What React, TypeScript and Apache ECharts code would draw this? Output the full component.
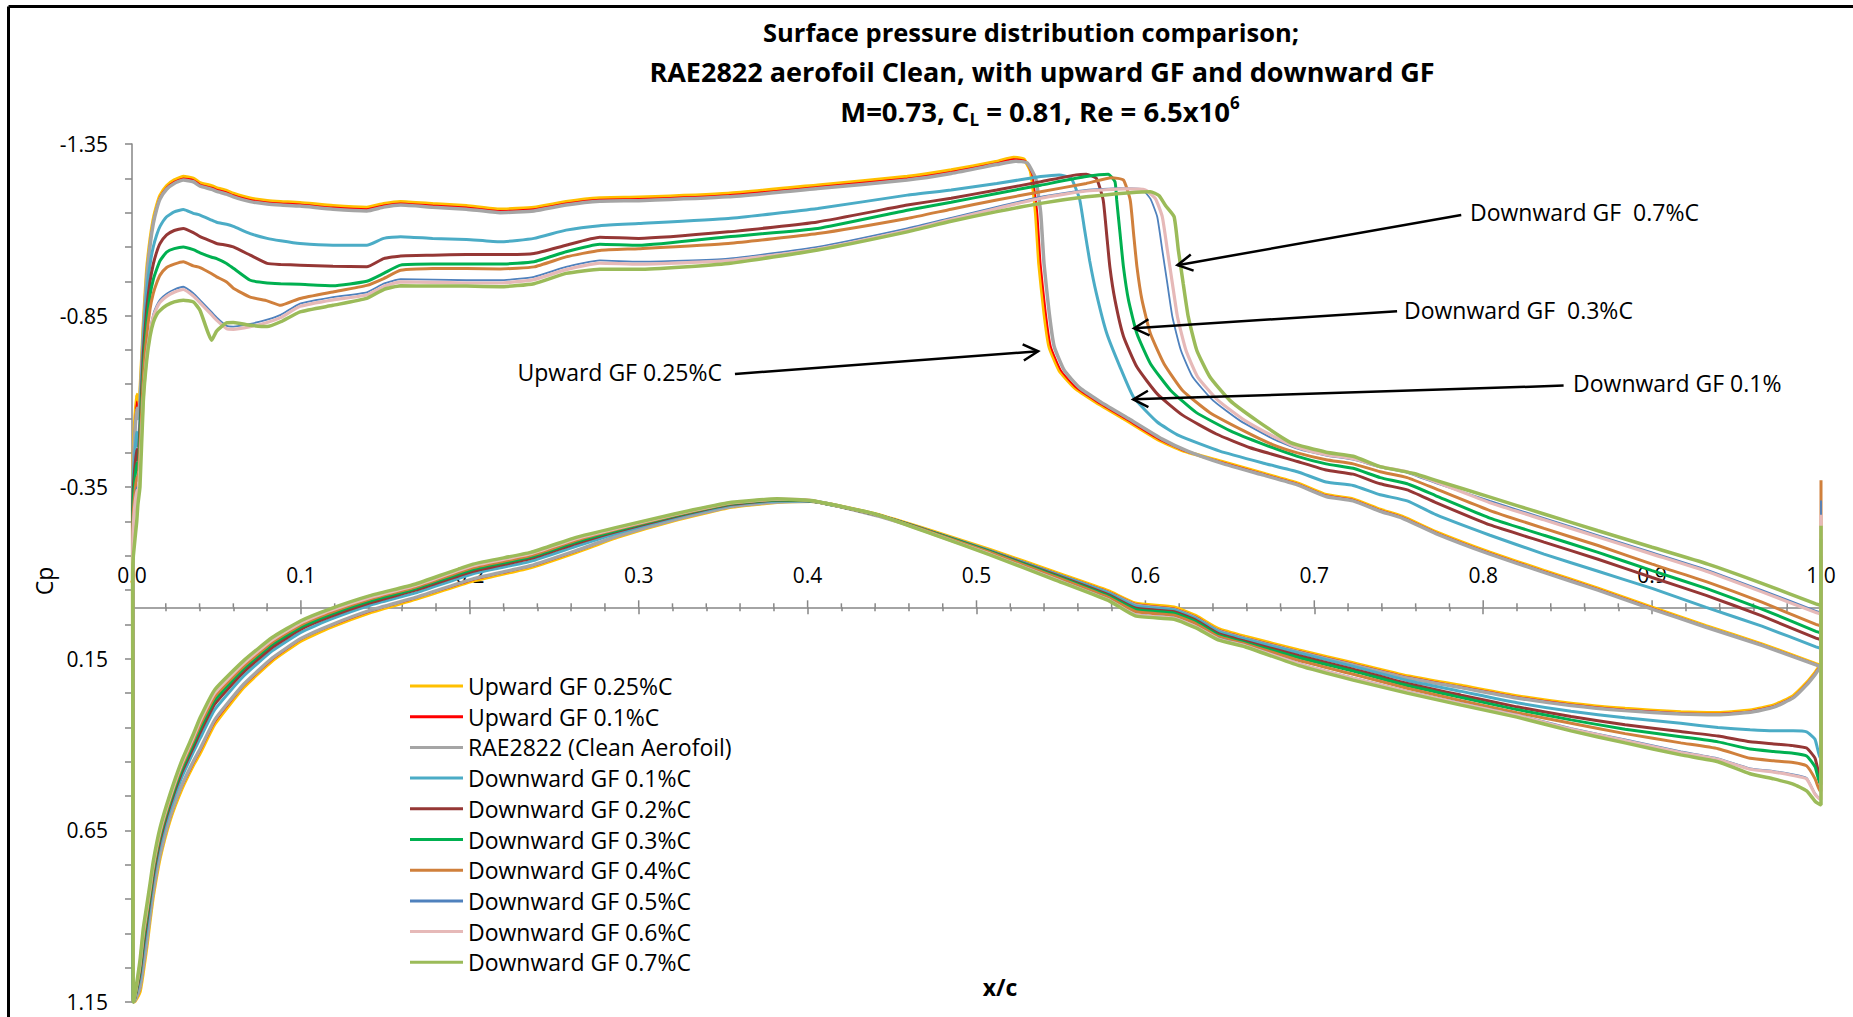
import React, { useEffect, useRef } from "react";
import * as echarts from "echarts";

const FONT = "'Open Sans', 'DejaVu Sans', sans-serif";

const SERIES_NAMES = [
  "Upward GF 0.25%C",
  "Upward GF 0.1%C",
  "RAE2822 (Clean Aerofoil)",
  "Downward GF 0.1%C",
  "Downward GF 0.2%C",
  "Downward GF 0.3%C",
  "Downward GF 0.4%C",
  "Downward GF 0.5%C",
  "Downward GF 0.6%C",
  "Downward GF 0.7%C",
];
const COLORS = ["#FFC000", "#FF0000", "#A5A5A5", "#4BACC6", "#953735", "#00B050", "#D0803C", "#4F81BD", "#E6B9B8", "#9BBB59"];
const LINE_WIDTHS = [3.5, 1.8, 3.5, 3, 3, 3, 3, 1.8, 3.2, 3.5];

// Y axis ticks (Cp, reversed)
const Y_MIN = -1.35;
const Y_MAX = 1.15;
const Y_STEP = 0.5;
// X axis ticks (x/c)
const X_MIN = 0;
const X_MAX = 1;
const X_STEP = 0.1;
const X_MINOR_SPLIT = 5;

// ---------- upper surface, leading edge to x = 0.512 (shared stations) ----------
const UPPER_X = [0.0004, 0.0008, 0.0028, 0.0035, 0.0047, 0.0067, 0.0087, 0.0107, 0.0126, 0.0146, 0.0166, 0.0205, 0.025, 0.0304, 0.0363, 0.0403, 0.0472, 0.0501, 0.056, 0.06, 0.07, 0.08, 0.088, 0.0995, 0.119, 0.139, 0.149, 0.159, 0.178, 0.198, 0.218, 0.238, 0.257, 0.277, 0.30, 0.353, 0.406, 0.459, 0.485, 0.512];

const UP_UPWARD_025 = [-0.30, -0.45, -0.62, -0.57, -0.62, -0.82, -0.98, -1.07, -1.13, -1.17, -1.20, -1.228, -1.245, -1.255, -1.25, -1.237, -1.228, -1.222, -1.214, -1.206, -1.192, -1.185, -1.182, -1.179, -1.17, -1.165, -1.176, -1.182, -1.176, -1.17, -1.16, -1.165, -1.182, -1.193, -1.195, -1.206, -1.23, -1.255, -1.274, -1.299];
const UP_UPWARD_01 = [-0.29, -0.44, -0.60, -0.56, -0.61, -0.81, -0.97, -1.063, -1.124, -1.165, -1.195, -1.223, -1.24, -1.25, -1.245, -1.232, -1.223, -1.217, -1.209, -1.201, -1.187, -1.18, -1.177, -1.174, -1.165, -1.16, -1.171, -1.177, -1.171, -1.165, -1.155, -1.16, -1.177, -1.188, -1.19, -1.201, -1.225, -1.25, -1.269, -1.294];
const UP_CLEAN = [-0.28, -0.42, -0.58, -0.55, -0.60, -0.80, -0.96, -1.055, -1.118, -1.16, -1.19, -1.218, -1.235, -1.245, -1.24, -1.227, -1.218, -1.212, -1.204, -1.196, -1.182, -1.175, -1.172, -1.169, -1.16, -1.155, -1.166, -1.172, -1.166, -1.16, -1.15, -1.155, -1.172, -1.183, -1.185, -1.196, -1.22, -1.245, -1.264, -1.29];
const UP_DOWN_01 = [-0.25, -0.38, -0.51, -0.47, -0.55, -0.78, -0.92, -1.0, -1.05, -1.085, -1.11, -1.138, -1.152, -1.159, -1.148, -1.143, -1.128, -1.122, -1.116, -1.11, -1.089, -1.075, -1.068, -1.06, -1.055, -1.055, -1.075, -1.08, -1.075, -1.072, -1.065, -1.075, -1.099, -1.112, -1.118, -1.133, -1.162, -1.201, -1.216, -1.235];
const UP_DOWN_02 = [-0.22, -0.35, -0.46, -0.43, -0.52, -0.74, -0.87, -0.95, -1.0, -1.035, -1.06, -1.085, -1.098, -1.104, -1.092, -1.08, -1.066, -1.06, -1.055, -1.05, -1.026, -1.002, -0.999, -0.997, -0.994, -0.992, -1.016, -1.024, -1.026, -1.028, -1.028, -1.031, -1.055, -1.078, -1.075, -1.094, -1.123, -1.172, -1.192, -1.216];
const UP_DOWN_03 = [-0.20, -0.32, -0.42, -0.40, -0.49, -0.70, -0.83, -0.91, -0.955, -0.985, -1.01, -1.035, -1.045, -1.05, -1.042, -1.033, -1.02, -1.016, -1.002, -0.988, -0.953, -0.945, -0.943, -0.941, -0.937, -0.95, -0.973, -0.997, -1.0, -1.0, -1.0, -1.007, -1.036, -1.058, -1.055, -1.08, -1.104, -1.157, -1.18, -1.206];
const UP_DOWN_04 = [-0.18, -0.28, -0.38, -0.37, -0.46, -0.67, -0.79, -0.87, -0.915, -0.945, -0.968, -0.99, -1.0, -1.007, -0.995, -0.99, -0.972, -0.963, -0.948, -0.93, -0.904, -0.893, -0.88, -0.9, -0.919, -0.938, -0.958, -0.982, -0.987, -0.987, -0.986, -0.992, -1.021, -1.04, -1.045, -1.06, -1.089, -1.133, -1.16, -1.187];
const UP_DOWN_05 = [-0.15, -0.25, -0.35, -0.34, -0.42, -0.62, -0.74, -0.81, -0.855, -0.88, -0.897, -0.914, -0.926, -0.934, -0.915, -0.895, -0.86, -0.845, -0.82, -0.818, -0.826, -0.838, -0.852, -0.885, -0.904, -0.918, -0.943, -0.956, -0.955, -0.953, -0.953, -0.963, -0.992, -1.011, -1.007, -1.016, -1.05, -1.104, -1.135, -1.167];
const UP_DOWN_06 = [-0.14, -0.24, -0.34, -0.33, -0.41, -0.61, -0.73, -0.80, -0.846, -0.872, -0.889, -0.906, -0.918, -0.926, -0.907, -0.887, -0.852, -0.837, -0.812, -0.81, -0.818, -0.83, -0.844, -0.877, -0.896, -0.91, -0.935, -0.948, -0.947, -0.945, -0.945, -0.955, -0.984, -1.003, -1.0, -1.01, -1.044, -1.098, -1.13, -1.162];
const UP_DOWN_07 = [-0.10, -0.15, -0.25, -0.30, -0.35, -0.60, -0.72, -0.79, -0.83, -0.853, -0.865, -0.88, -0.89, -0.895, -0.89, -0.865, -0.778, -0.805, -0.829, -0.83, -0.822, -0.818, -0.832, -0.861, -0.88, -0.9, -0.926, -0.937, -0.936, -0.936, -0.934, -0.943, -0.973, -0.985, -0.985, -1.002, -1.041, -1.094, -1.125, -1.153];

// ---------- upper surface, shock region to trailing edge ([x, Cp]) ----------
const AFT_UPWARD_025 = [[0.522, -1.311], [0.528, -1.306], [0.532, -1.27], [0.535, -1.15], [0.537, -1.0], [0.54, -0.86], [0.543, -0.76], [0.549, -0.69], [0.558, -0.64], [0.57, -0.6], [0.587, -0.55], [0.607, -0.49], [0.622, -0.457], [0.645, -0.425], [0.67, -0.39], [0.69, -0.362], [0.707, -0.328], [0.723, -0.315], [0.739, -0.285], [0.752, -0.265], [0.772, -0.22], [0.804, -0.16], [0.836, -0.107], [0.868, -0.055], [0.9, 0.0], [0.932, 0.054], [0.965, 0.107], [0.997, 0.165], [1.0, 0.17]];
const AFT_UPWARD_01 = [[0.522, -1.306], [0.529, -1.3], [0.533, -1.26], [0.536, -1.15], [0.538, -1.0], [0.541, -0.86], [0.544, -0.76], [0.55, -0.69], [0.559, -0.64], [0.571, -0.6], [0.588, -0.55], [0.608, -0.49], [0.623, -0.456], [0.645, -0.423], [0.67, -0.388], [0.69, -0.36], [0.707, -0.326], [0.723, -0.313], [0.739, -0.283], [0.752, -0.263], [0.772, -0.218], [0.804, -0.158], [0.836, -0.105], [0.868, -0.053], [0.9, 0.002], [0.932, 0.056], [0.965, 0.109], [0.997, 0.166], [1.0, 0.172]];
const AFT_CLEAN = [[0.523, -1.3], [0.53, -1.295], [0.535, -1.25], [0.538, -1.15], [0.54, -1.0], [0.543, -0.86], [0.546, -0.76], [0.552, -0.69], [0.561, -0.64], [0.573, -0.6], [0.59, -0.55], [0.61, -0.49], [0.625, -0.455], [0.645, -0.42], [0.67, -0.385], [0.69, -0.357], [0.707, -0.323], [0.723, -0.31], [0.739, -0.28], [0.752, -0.26], [0.772, -0.215], [0.804, -0.155], [0.836, -0.102], [0.868, -0.05], [0.9, 0.005], [0.932, 0.058], [0.965, 0.111], [0.997, 0.168], [1.0, 0.174]];
const AFT_DOWN_01 = [[0.538, -1.255], [0.549, -1.26], [0.556, -1.25], [0.561, -1.19], [0.564, -1.1], [0.567, -1.01], [0.571, -0.914], [0.577, -0.8], [0.585, -0.7], [0.593, -0.612], [0.607, -0.54], [0.62, -0.5], [0.644, -0.455], [0.67, -0.42], [0.69, -0.395], [0.707, -0.365], [0.723, -0.355], [0.739, -0.328], [0.755, -0.31], [0.772, -0.27], [0.804, -0.21], [0.836, -0.155], [0.868, -0.105], [0.9, -0.055], [0.932, 0.0], [0.965, 0.055], [0.997, 0.115], [1.0, 0.12]];
const AFT_DOWN_02 = [[0.538, -1.24], [0.559, -1.26], [0.565, -1.262], [0.571, -1.25], [0.575, -1.187], [0.577, -1.09], [0.579, -0.99], [0.582, -0.895], [0.587, -0.79], [0.595, -0.7], [0.607, -0.622], [0.622, -0.56], [0.642, -0.505], [0.662, -0.465], [0.69, -0.425], [0.707, -0.4], [0.723, -0.388], [0.739, -0.36], [0.755, -0.342], [0.772, -0.305], [0.804, -0.24], [0.836, -0.19], [0.868, -0.14], [0.9, -0.087], [0.932, -0.035], [0.965, 0.025], [0.997, 0.09], [1.0, 0.095]];
const AFT_DOWN_03 = [[0.538, -1.23], [0.565, -1.255], [0.578, -1.262], [0.582, -1.24], [0.583, -1.187], [0.585, -1.089], [0.587, -0.992], [0.59, -0.895], [0.595, -0.797], [0.603, -0.71], [0.615, -0.632], [0.63, -0.568], [0.65, -0.515], [0.67, -0.475], [0.69, -0.44], [0.707, -0.418], [0.723, -0.405], [0.739, -0.378], [0.755, -0.36], [0.772, -0.325], [0.804, -0.26], [0.836, -0.21], [0.868, -0.16], [0.9, -0.107], [0.932, -0.055], [0.965, 0.005], [0.997, 0.07], [1.0, 0.075]];
const AFT_DOWN_04 = [[0.538, -1.211], [0.565, -1.235], [0.58, -1.252], [0.587, -1.245], [0.591, -1.187], [0.593, -1.089], [0.595, -0.992], [0.598, -0.895], [0.603, -0.797], [0.611, -0.71], [0.622, -0.632], [0.638, -0.568], [0.658, -0.515], [0.675, -0.475], [0.69, -0.45], [0.707, -0.43], [0.723, -0.418], [0.739, -0.395], [0.755, -0.378], [0.772, -0.345], [0.804, -0.282], [0.836, -0.23], [0.868, -0.18], [0.9, -0.126], [0.932, -0.075], [0.965, -0.015], [0.997, 0.05], [1.0, 0.055]];
const AFT_DOWN_05 = [[0.538, -1.196], [0.565, -1.216], [0.585, -1.221], [0.598, -1.218], [0.603, -1.19], [0.607, -1.138], [0.61, -1.041], [0.613, -0.943], [0.616, -0.846], [0.621, -0.749], [0.628, -0.671], [0.64, -0.603], [0.656, -0.544], [0.676, -0.49], [0.69, -0.462], [0.707, -0.442], [0.723, -0.43], [0.739, -0.408], [0.755, -0.392], [0.772, -0.362], [0.804, -0.31], [0.836, -0.26], [0.868, -0.21], [0.9, -0.16], [0.932, -0.11], [0.965, -0.05], [0.997, 0.01], [1.0, 0.015]];
const AFT_DOWN_06 = [[0.538, -1.192], [0.565, -1.213], [0.588, -1.219], [0.6, -1.216], [0.606, -1.19], [0.61, -1.138], [0.613, -1.041], [0.616, -0.943], [0.619, -0.846], [0.624, -0.749], [0.631, -0.671], [0.643, -0.603], [0.659, -0.544], [0.679, -0.49], [0.69, -0.466], [0.707, -0.445], [0.723, -0.433], [0.739, -0.41], [0.755, -0.395], [0.772, -0.365], [0.804, -0.305], [0.836, -0.255], [0.868, -0.205], [0.9, -0.155], [0.932, -0.105], [0.965, -0.045], [0.997, 0.015], [1.0, 0.02]];
const AFT_DOWN_07 = [[0.538, -1.177], [0.565, -1.196], [0.591, -1.208], [0.603, -1.211], [0.608, -1.2], [0.612, -1.17], [0.617, -1.138], [0.6195, -1.041], [0.6224, -0.943], [0.6254, -0.846], [0.6304, -0.749], [0.6382, -0.671], [0.65, -0.603], [0.666, -0.544], [0.686, -0.48], [0.707, -0.452], [0.723, -0.44], [0.739, -0.41], [0.759, -0.39], [0.772, -0.37], [0.804, -0.321], [0.836, -0.272], [0.868, -0.223], [0.9, -0.175], [0.933, -0.126], [0.965, -0.07], [0.997, -0.01], [1.0, -0.005]];

// ---------- lower surface, stagnation point to trailing edge (shared stations) ----------
const LOWER_X = [0.0008, 0.0017, 0.0047, 0.0067, 0.0087, 0.0107, 0.0126, 0.0166, 0.0225, 0.0294, 0.0363, 0.0403, 0.049, 0.066, 0.083, 0.10, 0.117, 0.141, 0.168, 0.202, 0.236, 0.263, 0.287, 0.321, 0.355, 0.382, 0.402, 0.44, 0.474, 0.508, 0.546, 0.578, 0.594, 0.617, 0.63, 0.643, 0.659, 0.691, 0.723, 0.755, 0.787, 0.82, 0.852, 0.884, 0.917, 0.939, 0.958, 0.972, 0.9835, 0.9915, 0.9965, 0.9995];

const LOW_UPWARD_025 = [1.15, 1.148, 1.12, 1.06, 0.99, 0.91, 0.84, 0.73, 0.62, 0.53, 0.46, 0.425, 0.34, 0.234, 0.156, 0.098, 0.059, 0.015, -0.024, -0.077, -0.116, -0.16, -0.204, -0.253, -0.292, -0.306, -0.309, -0.272, -0.222, -0.168, -0.103, -0.048, -0.012, 0.0, 0.025, 0.062, 0.085, 0.125, 0.162, 0.2, 0.228, 0.258, 0.28, 0.295, 0.305, 0.307, 0.3, 0.285, 0.258, 0.22, 0.19, 0.17];
const LOW_UPWARD_01 = [1.15, 1.147, 1.115, 1.053, 0.983, 0.904, 0.834, 0.725, 0.616, 0.525, 0.455, 0.419, 0.334, 0.229, 0.152, 0.094, 0.056, 0.012, -0.027, -0.08, -0.119, -0.163, -0.206, -0.254, -0.293, -0.307, -0.309, -0.27, -0.22, -0.166, -0.101, -0.046, -0.01, 0.003, 0.028, 0.065, 0.088, 0.128, 0.165, 0.203, 0.231, 0.261, 0.283, 0.298, 0.308, 0.31, 0.303, 0.288, 0.261, 0.222, 0.192, 0.172];
const LOW_CLEAN = [1.15, 1.146, 1.109, 1.045, 0.976, 0.897, 0.828, 0.72, 0.611, 0.52, 0.449, 0.413, 0.328, 0.225, 0.148, 0.091, 0.053, 0.009, -0.029, -0.083, -0.121, -0.165, -0.207, -0.255, -0.294, -0.307, -0.309, -0.268, -0.218, -0.163, -0.098, -0.043, -0.007, 0.006, 0.031, 0.068, 0.091, 0.131, 0.168, 0.206, 0.234, 0.264, 0.286, 0.301, 0.311, 0.313, 0.306, 0.291, 0.264, 0.226, 0.196, 0.176];
const LOW_DOWN_01 = [1.15, 1.14, 1.082, 1.008, 0.94, 0.866, 0.798, 0.693, 0.589, 0.496, 0.422, 0.382, 0.298, 0.201, 0.127, 0.073, 0.036, -0.006, -0.042, -0.098, -0.134, -0.178, -0.216, -0.261, -0.298, -0.31, -0.31, -0.271, -0.22, -0.165, -0.099, -0.042, -0.004, 0.008, 0.033, 0.07, 0.093, 0.133, 0.172, 0.213, 0.245, 0.278, 0.303, 0.322, 0.338, 0.35, 0.357, 0.36, 0.36, 0.363, 0.385, 0.44];
const LOW_DOWN_02 = [1.15, 1.138, 1.068, 0.988, 0.92, 0.849, 0.782, 0.68, 0.577, 0.482, 0.408, 0.365, 0.282, 0.189, 0.117, 0.064, 0.028, -0.013, -0.05, -0.105, -0.142, -0.186, -0.221, -0.264, -0.3, -0.312, -0.31, -0.271, -0.219, -0.163, -0.096, -0.037, 0.002, 0.013, 0.038, 0.076, 0.099, 0.141, 0.18, 0.222, 0.256, 0.29, 0.318, 0.342, 0.362, 0.375, 0.392, 0.398, 0.403, 0.41, 0.44, 0.497];
const LOW_DOWN_03 = [1.15, 1.135, 1.057, 0.973, 0.906, 0.837, 0.77, 0.669, 0.568, 0.473, 0.397, 0.353, 0.27, 0.179, 0.108, 0.057, 0.021, -0.019, -0.055, -0.111, -0.147, -0.191, -0.224, -0.266, -0.302, -0.313, -0.31, -0.271, -0.218, -0.162, -0.093, -0.033, 0.006, 0.017, 0.042, 0.08, 0.103, 0.147, 0.186, 0.228, 0.263, 0.298, 0.328, 0.355, 0.377, 0.392, 0.413, 0.42, 0.425, 0.433, 0.465, 0.516];
const LOW_DOWN_04 = [1.15, 1.134, 1.048, 0.96, 0.894, 0.826, 0.76, 0.66, 0.56, 0.464, 0.388, 0.343, 0.26, 0.172, 0.102, 0.051, 0.016, -0.024, -0.059, -0.116, -0.151, -0.195, -0.227, -0.268, -0.303, -0.314, -0.311, -0.271, -0.217, -0.16, -0.09, -0.029, 0.012, 0.023, 0.048, 0.085, 0.107, 0.155, 0.195, 0.236, 0.272, 0.307, 0.338, 0.368, 0.395, 0.412, 0.44, 0.447, 0.452, 0.462, 0.5, 0.536];
const LOW_DOWN_05 = [1.15, 1.131, 1.035, 0.943, 0.877, 0.811, 0.746, 0.648, 0.55, 0.453, 0.375, 0.328, 0.246, 0.161, 0.092, 0.043, 0.008, -0.031, -0.065, -0.123, -0.157, -0.201, -0.231, -0.271, -0.305, -0.315, -0.311, -0.272, -0.215, -0.156, -0.085, -0.024, 0.02, 0.03, 0.055, 0.09, 0.11, 0.163, 0.205, 0.244, 0.279, 0.313, 0.352, 0.385, 0.42, 0.44, 0.469, 0.477, 0.487, 0.497, 0.542, 0.557];
const LOW_DOWN_06 = [1.15, 1.132, 1.039, 0.948, 0.882, 0.816, 0.75, 0.652, 0.553, 0.456, 0.379, 0.332, 0.25, 0.164, 0.095, 0.045, 0.01, -0.029, -0.064, -0.121, -0.156, -0.2, -0.23, -0.27, -0.305, -0.315, -0.311, -0.271, -0.214, -0.155, -0.083, -0.022, 0.022, 0.032, 0.057, 0.092, 0.112, 0.165, 0.207, 0.246, 0.281, 0.315, 0.355, 0.388, 0.423, 0.443, 0.472, 0.48, 0.49, 0.5, 0.545, 0.56];
const LOW_DOWN_07 = [1.15, 1.13, 1.03, 0.935, 0.87, 0.805, 0.74, 0.643, 0.545, 0.448, 0.37, 0.322, 0.24, 0.156, 0.088, 0.039, 0.005, -0.034, -0.068, -0.126, -0.16, -0.204, -0.233, -0.272, -0.306, -0.316, -0.311, -0.272, -0.213, -0.153, -0.081, -0.02, 0.025, 0.035, 0.06, 0.095, 0.115, 0.17, 0.212, 0.25, 0.285, 0.32, 0.36, 0.395, 0.43, 0.45, 0.485, 0.5, 0.515, 0.535, 0.565, 0.575];

// Cp at the top of the trailing-edge (Gurney flap) vertical at x/c = 1
const FLAP_TOP = [-0.14, 0.05, 0.176, -0.1, -0.15, -0.2, -0.37, -0.311, -0.27, -0.238];

const UPPER = [UP_UPWARD_025, UP_UPWARD_01, UP_CLEAN, UP_DOWN_01, UP_DOWN_02, UP_DOWN_03, UP_DOWN_04, UP_DOWN_05, UP_DOWN_06, UP_DOWN_07];
const AFT = [AFT_UPWARD_025, AFT_UPWARD_01, AFT_CLEAN, AFT_DOWN_01, AFT_DOWN_02, AFT_DOWN_03, AFT_DOWN_04, AFT_DOWN_05, AFT_DOWN_06, AFT_DOWN_07];
const LOWER = [LOW_UPWARD_025, LOW_UPWARD_01, LOW_CLEAN, LOW_DOWN_01, LOW_DOWN_02, LOW_DOWN_03, LOW_DOWN_04, LOW_DOWN_05, LOW_DOWN_06, LOW_DOWN_07];

// Annotations: label text, label anchor, arrow start, arrow tip (data coords)
const ANNOTATIONS = [
  { text: "Downward GF  0.7%C", anchor: [0.7922, -1.153], align: "left", from: [0.787, -1.143], tip: [0.619, -0.997] },
  { text: "Downward GF  0.3%C", anchor: [0.7531, -0.8666], align: "left", from: [0.749, -0.863], tip: [0.5933, -0.813] },
  { text: "Downward GF 0.1%", anchor: [0.8532, -0.6524], align: "left", from: [0.8476, -0.646], tip: [0.5928, -0.606] },
  { text: "Upward GF 0.25%C", anchor: [0.3493, -0.6845], align: "right", from: [0.357, -0.68], tip: [0.5365, -0.746] },
];

function buildPath(i: number) {
  const up: number[][] = UPPER_X.map((x, k) => [x, UPPER[i][k]]).concat(AFT[i]);
  const pts: number[][] = [];
  for (let k = up.length - 1; k >= 0; k--) pts.push(up[k]);
  LOWER_X.forEach((x, k) => pts.push([x, LOWER[i][k]]));
  const teLow = LOWER[i][LOWER[i].length - 1];
  pts.push([1.0, teLow]);
  pts.push([1.0, FLAP_TOP[i]]);
  return pts;
}

const AXIS_GREY = "#868686";

export default function App() {
  const ref = useRef<HTMLDivElement>(null);
  useEffect(() => {
    document.body.style.margin = "0";
    const chart = echarts.init(ref.current as HTMLDivElement, undefined, { renderer: "svg" });
    const series = SERIES_NAMES.map((name, i) => ({
      name,
      type: "line",
      data: buildPath(i),
      symbol: "none",
      showSymbol: false,
      smooth: 0.15,
      lineStyle: { color: COLORS[i], width: LINE_WIDTHS[i] },
      itemStyle: { color: COLORS[i] },
      emphasis: { disabled: true },
      z: 3,
    }));
    chart.setOption({
      animation: false,
      backgroundColor: "#ffffff",
      textStyle: { fontFamily: FONT },
      grid: { left: 132, right: 32, top: 144, bottom: 15, containLabel: false },
      xAxis: {
        type: "value",
        min: X_MIN,
        max: X_MAX,
        interval: X_STEP,
        position: "bottom",
        splitLine: { show: false },
        axisLine: { show: true, onZero: true, lineStyle: { color: AXIS_GREY, width: 1.5 } },
        axisTick: { show: true, inside: false, length: 7, lineStyle: { color: AXIS_GREY, width: 1.5 } },
        minorTick: { show: true, splitNumber: X_MINOR_SPLIT, length: 4, lineStyle: { color: AXIS_GREY, width: 1.5 } },
        axisLabel: { show: false },
      },
      yAxis: {
        type: "value",
        inverse: true,
        min: Y_MIN,
        max: Y_MAX,
        interval: Y_STEP,
        position: "left",
        splitLine: { show: false },
        axisLine: { show: true, onZero: false, lineStyle: { color: AXIS_GREY, width: 1.5 } },
        axisTick: { show: true, length: 7, lineStyle: { color: AXIS_GREY, width: 1.5 } },
        minorTick: { show: true, splitNumber: 5, length: 7, lineStyle: { color: AXIS_GREY, width: 1.5 } },
        axisLabel: {
          margin: 24,
          fontSize: 21,
          fontFamily: FONT,
          color: "#000",
          showMinLabel: true,
          showMaxLabel: true,
          formatter: (v: number) => v.toFixed(2),
        },
      },
      legend: {
        show: true,
        orient: "vertical",
        left: 405,
        top: 669,
        itemWidth: 53,
        itemHeight: 3,
        itemGap: 6.7,
        icon: "rect",
        data: SERIES_NAMES.map((name, i) => ({ name, itemStyle: { color: COLORS[i] } })),
        textStyle: { fontSize: 23, fontFamily: FONT, color: "#000", lineHeight: 24 },
        selectedMode: false,
      },
      series,
    });

    const px = (p: number[]) => chart.convertToPixel({ xAxisIndex: 0, yAxisIndex: 0 }, p) as number[];

    const graphics: any[] = [
      // chart-area frame (top and left edges visible)
      { type: "line", shape: { x1: 8.5, y1: 6.5, x2: 1853, y2: 6.5 }, style: { stroke: "#000", lineWidth: 3 }, z: 50 },
      { type: "line", shape: { x1: 8.5, y1: 6.5, x2: 8.5, y2: 1017 }, style: { stroke: "#000", lineWidth: 3 }, z: 50 },
      {
        type: "text",
        x: 1031,
        y: 32,
        style: { text: "Surface pressure distribution comparison;", fontSize: 25.5, fontWeight: "bold", fontFamily: FONT, fill: "#000", align: "center", verticalAlign: "middle" },
        z: 50,
      },
      {
        type: "text",
        x: 1042,
        y: 71,
        style: { text: "RAE2822 aerofoil Clean, with upward GF and downward GF", fontSize: 27, fontWeight: "bold", fontFamily: FONT, fill: "#000", align: "center", verticalAlign: "middle" },
        z: 50,
      },
      {
        type: "text",
        x: 1040,
        y: 111,
        style: {
          text: "{n|M=0.73, C}{sub|L}{n| = 0.81, Re = 6.5x10}{sup|6}",
          align: "center",
          verticalAlign: "middle",
          rich: {
            n: { fontSize: 27.5, fontWeight: "bold", fontFamily: FONT, fill: "#000", lineHeight: 34 },
            sub: { fontSize: 17, fontWeight: "bold", fontFamily: FONT, fill: "#000", lineHeight: 14, verticalAlign: "bottom" },
            sup: { fontSize: 17, fontWeight: "bold", fontFamily: FONT, fill: "#000", lineHeight: 14, verticalAlign: "top" },
          },
        },
        z: 50,
      },
      {
        type: "text",
        x: 1000,
        y: 987,
        style: { text: "x/c", fontSize: 23, fontWeight: "bold", fontFamily: FONT, fill: "#000", align: "center", verticalAlign: "middle" },
        z: 50,
      },
      {
        type: "text",
        x: 44,
        y: 581,
        rotation: Math.PI / 2,
        style: { text: "Cp", fontSize: 23, fontFamily: FONT, fill: "#000", align: "center", verticalAlign: "middle" },
        z: 50,
      },
    ];

    // upper halves of the x-axis ticks (the axis ticks cross the line)
    const minorStep = X_STEP / X_MINOR_SPLIT;
    const nTicks = Math.round((X_MAX - X_MIN) / minorStep);
    for (let k = 0; k <= nTicks; k++) {
      const v = X_MIN + k * minorStep;
      const p = px([v, 0]);
      const len = k % X_MINOR_SPLIT === 0 ? 7 : 4;
      graphics.push({ type: "line", shape: { x1: p[0], y1: p[1], x2: p[0], y2: p[1] - len }, style: { stroke: AXIS_GREY, lineWidth: 1.5 }, z: 0 });
    }

    // x-axis tick labels, drawn above the axis line that sits at Cp = 0 (under the curves)
    const nMajor = Math.round((X_MAX - X_MIN) / X_STEP);
    for (let k = 0; k <= nMajor; k++) {
      const v = X_MIN + k * X_STEP;
      const p = px([v, 0]);
      graphics.push({
        type: "text",
        x: p[0],
        y: p[1] - 32,
        style: { text: v.toFixed(1), fontSize: 21, fontFamily: FONT, fill: "#000", align: "center", verticalAlign: "middle" },
        z: 0,
      });
    }

    ANNOTATIONS.forEach((a) => {
      const p0 = px(a.from);
      const p1 = px(a.tip);
      const pa = px(a.anchor);
      const ang = Math.atan2(p0[1] - p1[1], p0[0] - p1[0]);
      const L = 17;
      const spread = 0.5;
      const h1 = [p1[0] + L * Math.cos(ang + spread), p1[1] + L * Math.sin(ang + spread)];
      const h2 = [p1[0] + L * Math.cos(ang - spread), p1[1] + L * Math.sin(ang - spread)];
      graphics.push({ type: "line", shape: { x1: p0[0], y1: p0[1], x2: p1[0], y2: p1[1] }, style: { stroke: "#000", lineWidth: 2.5 }, z: 60 });
      graphics.push({ type: "polyline", shape: { points: [h1, p1, h2] }, style: { stroke: "#000", lineWidth: 2.5, fill: "none" }, z: 60 });
      graphics.push({
        type: "text",
        x: pa[0],
        y: pa[1],
        style: { text: a.text, fontSize: 23, fontFamily: FONT, fill: "#000", align: a.align, verticalAlign: "middle" },
        z: 60,
      });
    });

    chart.setOption({ graphic: graphics });
    return () => chart.dispose();
  }, []);
  return <div ref={ref} style={{ position: "absolute", left: 0, top: 0, width: 1853, height: 1017, background: "#fff" }} />;
}
